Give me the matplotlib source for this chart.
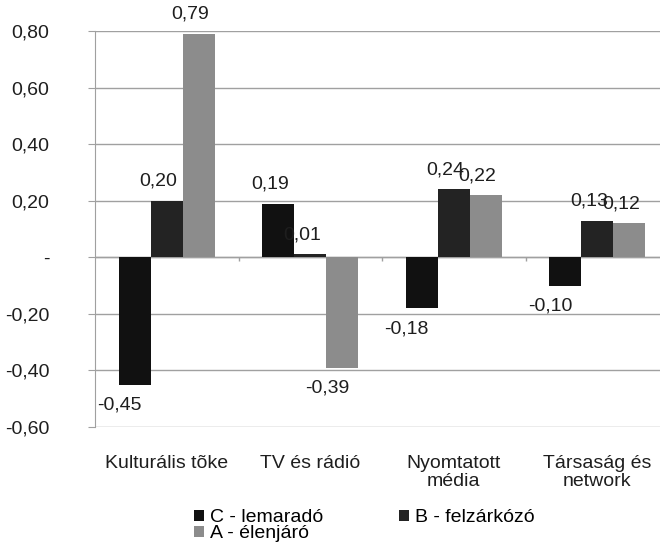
import matplotlib.pyplot as plt
import numpy as np

plt.rcParams['font.family'] = ['Liberation Sans', 'DejaVu Sans']

categories = ['Kulturális tõke', 'TV és rádió', 'Nyomtatott\nmédia', 'Társaság és\nnetwork']
series_names = ['C - lemaradó', 'B - felzárkózó', 'A - élenjáró']
c_vals = [-0.45, 0.19, -0.18, -0.10]
b_vals = [0.20, 0.01, 0.24, 0.13]
a_vals = [0.79, -0.39, 0.22, 0.12]
y_ticks = [-0.6, -0.4, -0.2, 0.0, 0.2, 0.4, 0.6, 0.8]
y_tick_labels = ['-0,60', '-0,40', '-0,20', '-', '0,20', '0,40', '0,60', '0,80']

colors = ['#111111', '#232323', '#8c8c8c']
grid_col = '#a0a0a0'
txt_col = '#1e1e1e'
fs = 14


def fmt(v):
    return '{0:.2f}'.format(v).replace('.', ',')


fig = plt.figure(figsize=(6.6, 5.44), dpi=100)
ax = fig.add_axes([95 / 660, 117 / 544, 574 / 660, 396 / 544])

x = np.arange(len(categories))
w = 0.223
bars = []
for k, vals in enumerate([c_vals, b_vals, a_vals]):
    b = ax.bar(x + (k - 1) * w, vals, w, color=colors[k], label=series_names[k], zorder=3)
    bars.append(b)
    for xi, v in zip(x + (k - 1) * w, vals):
        if v >= 0:
            ax.annotate(fmt(v), (xi, v), xytext=(-6, 14), textcoords='offset points',
                        ha='center', va='center', fontsize=fs, color=txt_col, zorder=4)
        else:
            ax.annotate(fmt(v), (xi, v), xytext=(-11, -15), textcoords='offset points',
                        ha='center', va='center', fontsize=fs, color=txt_col, zorder=4)

ax.set_xlim(-0.5, 3.5)
ax.set_ylim(-0.6, 0.8)
ax.set_yticks(y_ticks)
ax.set_yticklabels(y_tick_labels, fontsize=fs, color=txt_col)
ax.set_xticks(x)
ax.set_xticklabels(categories, fontsize=fs, color=txt_col, linespacing=1.1)
ax.tick_params(axis='x', length=0, pad=20)
ax.tick_params(axis='y', length=5, color=grid_col, pad=28)
for lab in ax.get_yticklabels():
    lab.set_horizontalalignment('right')

ax.grid(axis='y', color=grid_col, linewidth=1, zorder=0)
ax.axhline(0, color=grid_col, linewidth=1, zorder=2)
ax.vlines([0.5, 1.5, 2.5], -0.012, 0, color=grid_col, linewidth=1, zorder=2)
for s in ['top', 'right', 'bottom']:
    ax.spines[s].set_visible(False)
ax.spines['left'].set_color(grid_col)

handles = [bars[0], bars[2], bars[1]]
labels = [series_names[0], series_names[2], series_names[1]]
fig.legend(handles, labels, loc='center', bbox_to_anchor=(0.552, 0.034), ncol=2,
           frameon=False, fontsize=fs, handlelength=0.5, handleheight=0.5,
           handletextpad=0.3, labelspacing=-0.05, columnspacing=3.9,
           borderpad=0, borderaxespad=0)

fig.savefig('out.png', dpi=100)
